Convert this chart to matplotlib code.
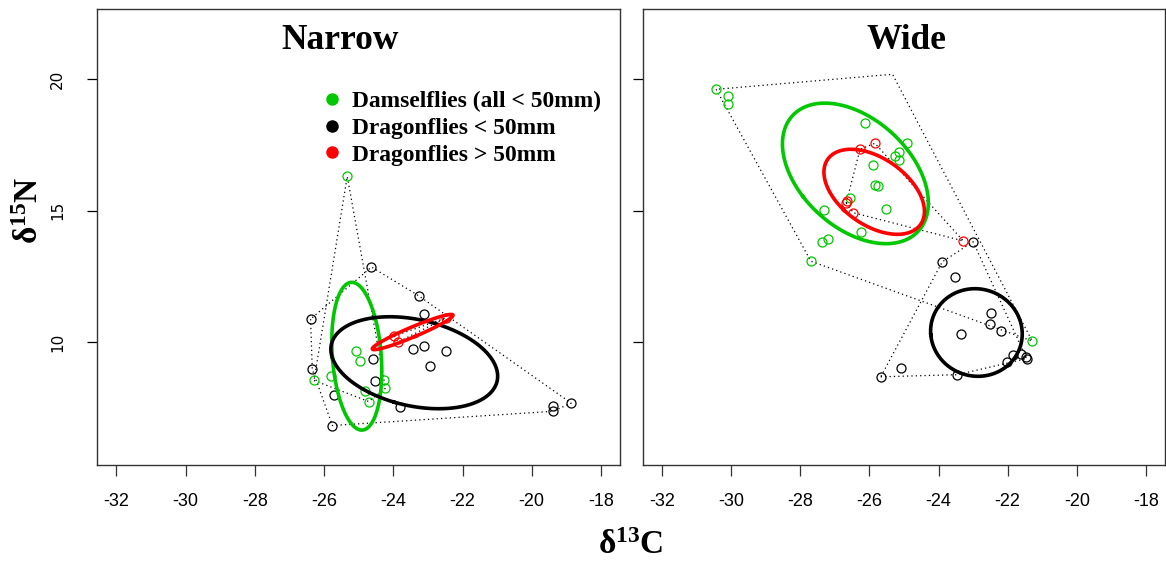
import numpy as np
import matplotlib.pyplot as plt
from matplotlib.lines import Line2D

plt.rcParams['mathtext.fontset'] = 'custom'
plt.rcParams['mathtext.rm'] = 'Liberation Serif'
plt.rcParams['mathtext.bf'] = 'Liberation Serif:bold'

# isotope values per group: d13C (x), d15N (y)
# --- narrow habitat ---
narrow_damsel_c = [-25.33, -25.07, -24.97, -25.81, -26.29, -24.27, -24.23, -24.81, -24.71]
narrow_damsel_n = [16.30, 9.67, 9.29, 8.72, 8.55, 8.58, 8.25, 8.14, 7.75]

narrow_small_c = [-24.63, -26.39, -23.27, -23.11, -23.42, -23.10, -22.47, -22.93, -24.58,
                  -26.34, -24.54, -25.72, -23.82, -25.76, -19.38, -19.38, -18.86]
narrow_small_n = [12.86, 10.88, 11.77, 11.06, 9.76, 9.86, 9.66, 9.09, 9.35,
                  8.97, 8.52, 8.00, 7.55, 6.84, 7.57, 7.38, 7.69]

narrow_large_c = [-23.97, -23.86, -22.49]
narrow_large_n = [10.24, 10.01, 10.92]

# --- wide habitat ---
wide_damsel_c = [-30.43, -30.10, -30.08, -26.12, -24.90, -25.15, -25.26, -25.13, -25.88,
                 -25.83, -25.75, -26.56, -27.31, -25.52, -26.25, -27.19, -27.37, -27.69, -21.29]
wide_damsel_n = [19.61, 19.35, 19.05, 18.34, 17.56, 17.21, 17.09, 16.93, 16.74,
                 15.99, 15.92, 15.47, 15.01, 15.06, 14.19, 13.91, 13.81, 13.08, 10.05]
# samples that only show up as the hull corner (no symbol drawn)
wide_damsel_hidden_c = [-25.33, -25.33]
wide_damsel_hidden_n = [20.18, 20.18]

wide_small_c = [-23.00, -23.89, -23.51, -22.48, -22.50, -22.20, -23.36, -21.84, -21.60,
                -22.03, -21.48, -21.45, -25.08, -25.67, -23.46]
wide_small_n = [13.82, 13.06, 12.48, 11.13, 10.71, 10.44, 10.33, 9.52, 9.55,
                9.27, 9.43, 9.38, 9.01, 8.69, 8.77]

wide_large_c = [-25.84, -26.27, -26.67, -26.64, -26.46, -23.28]
wide_large_n = [17.56, 17.33, 15.29, 15.35, 14.92, 13.85]

x_ticks = [-32, -30, -28, -26, -24, -22, -20, -18]
y_ticks = [10, 15, 20]
panel_titles = ['Narrow', 'Wide']
legend_labels = ['Damselflies (all < 50mm)', 'Dragonflies < 50mm', 'Dragonflies > 50mm']

GREEN = '#00c800'
BLACK = '#000000'
RED = '#ff0000'


def std_ellipse(x, y, npts=300):
    # small-sample corrected standard ellipse from the covariance matrix
    x = np.asarray(x, float)
    y = np.asarray(y, float)
    n = len(x)
    vals, vecs = np.linalg.eigh(np.cov(x, y))
    k = np.sqrt((n - 1) / (n - 2))
    t = np.linspace(0, 2 * np.pi, npts)
    pts = vecs @ (np.sqrt(vals)[:, None] * np.vstack([np.cos(t), np.sin(t)])) * k
    return pts[0] + x.mean(), pts[1] + y.mean()


def convex_hull(x, y):
    pts = sorted(set(zip(x, y)))

    def cross(o, a, b):
        return (a[0] - o[0]) * (b[1] - o[1]) - (a[1] - o[1]) * (b[0] - o[0])

    lower, upper = [], []
    for p in pts:
        while len(lower) >= 2 and cross(lower[-2], lower[-1], p) <= 0:
            lower.pop()
        lower.append(p)
    for p in reversed(pts):
        while len(upper) >= 2 and cross(upper[-2], upper[-1], p) <= 0:
            upper.pop()
        upper.append(p)
    h = lower[:-1] + upper[:-1] + [lower[0]]
    return [p[0] for p in h], [p[1] for p in h]


fig = plt.figure(figsize=(11.66, 5.62), dpi=100)
ax1 = fig.add_axes([97 / 1166, 1 - 465 / 562, 523 / 1166, 456 / 562])
ax2 = fig.add_axes([642.5 / 1166, 1 - 465 / 562, 522.5 / 1166, 456 / 562])

panels = [
    (ax1, [(narrow_damsel_c, narrow_damsel_n, [], [], GREEN),
           (narrow_small_c, narrow_small_n, [], [], BLACK),
           (narrow_large_c, narrow_large_n, [], [], RED)]),
    (ax2, [(wide_damsel_c, wide_damsel_n, wide_damsel_hidden_c, wide_damsel_hidden_n, GREEN),
           (wide_small_c, wide_small_n, [], [], BLACK),
           (wide_large_c, wide_large_n, [], [], RED)]),
]
title_x = [340 / 1166, 906 / 1166]

for (ax, groups), title, tx in zip(panels, panel_titles, title_x):
    for xs, ys, hx, hy, col in groups:
        cx, cy = convex_hull(list(xs) + hx, list(ys) + hy)
        ax.plot(cx, cy, color='black', lw=0.9, ls=(0, (1, 2.5)), zorder=2)
    for xs, ys, hx, hy, col in groups:
        ax.plot(xs, ys, 'o', mfc='none', mec=col, ms=6.5, mew=0.9, zorder=3)
    for xs, ys, hx, hy, col in groups:
        ex, ey = std_ellipse(list(xs) + hx, list(ys) + hy)
        ax.plot(ex, ey, color=col, lw=2.6, zorder=4)

    ax.set_xlim(-32.56, -17.45)
    ax.set_ylim(5.34, 22.66)
    ax.set_xticks(x_ticks)
    ax.set_yticks(y_ticks)
    ax.set_xticklabels([str(v) for v in x_ticks], family='Liberation Sans', fontsize=13)
    ax.tick_params(axis='x', length=8, width=0.9, pad=12, colors='#333333', labelcolor='black')
    ax.tick_params(axis='y', length=7, width=0.9, pad=16, labelrotation=90, labelsize=11)
    for lab in ax.get_yticklabels():
        lab.set_verticalalignment('center')
    for s in ax.spines.values():
        s.set_linewidth(1.0)
        s.set_color('#333333')
    fig.text(tx, 1 - 49 / 562, title, ha='center', va='baseline',
             family='Liberation Serif', fontweight='bold', fontsize=25.5)

ax2.set_yticklabels([])

handles = [Line2D([], [], ls='none', marker='o', ms=8, mfc=c, mec=c) for c in (GREEN, BLACK, RED)]
ax1.legend(handles, legend_labels, loc='upper left', bbox_to_anchor=(0.432, 0.82),
           frameon=False, borderpad=0, borderaxespad=0, handlelength=0.8,
           handletextpad=0.45, labelspacing=0.22,
           prop={'family': 'Liberation Serif', 'weight': 'bold', 'size': 16.9})

fig.text(29 / 1166, 1 - 210 / 562, r'$\mathbf{δ^{15}N}$', rotation=90, ha='center', va='center',
         fontsize=24)
fig.text(631 / 1166, 1 - 545 / 562, r'$\mathbf{δ^{13}C}$', ha='center', va='center',
         fontsize=24)

fig.savefig('out.png', dpi=100)
